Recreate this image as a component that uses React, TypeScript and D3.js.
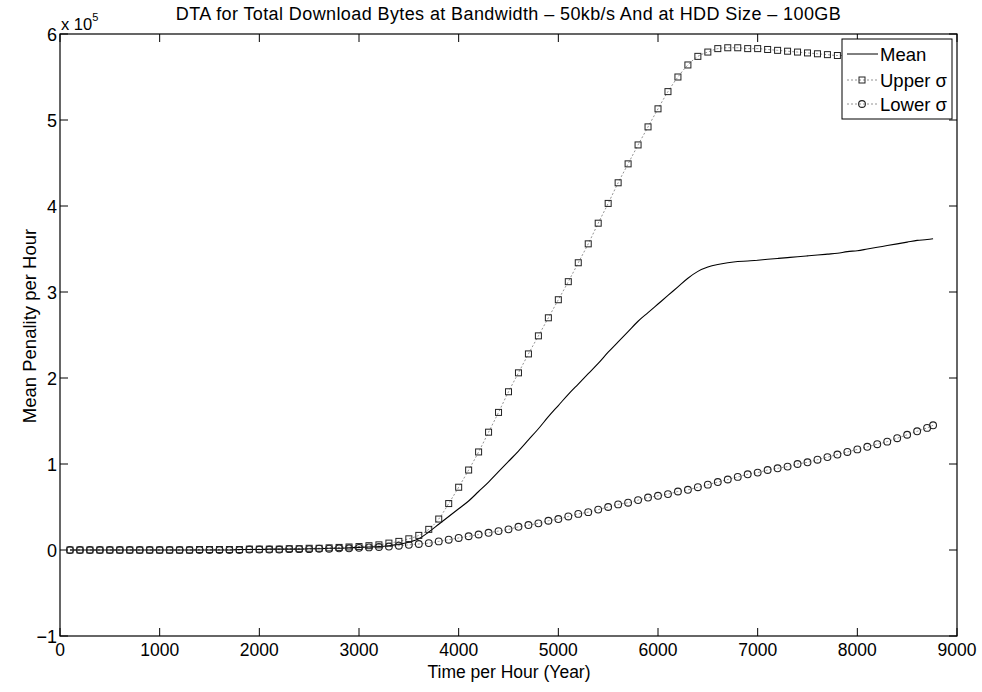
import React from "react";
import * as d3 from "d3";

const hours = [
  100, 200, 300, 400, 500, 600, 700, 800, 900, 1000,
  1100, 1200, 1300, 1400, 1500, 1600, 1700, 1800, 1900, 2000,
  2100, 2200, 2300, 2400, 2500, 2600, 2700, 2800, 2900, 3000,
  3100, 3200, 3300, 3400, 3500, 3600, 3700, 3800, 3900, 4000,
  4100, 4200, 4300, 4400, 4500, 4600, 4700, 4800, 4900, 5000,
  5100, 5200, 5300, 5400, 5500, 5600, 5700, 5800, 5900, 6000,
  6100, 6200, 6300, 6400, 6500, 6600, 6700, 6800, 6900, 7000,
  7100, 7200, 7300, 7400, 7500, 7600, 7700, 7800, 7900, 8000,
  8100, 8200, 8300, 8400, 8500, 8600, 8700, 8760,
];

// values in units of 10^5
const meanValues = [
  0.0, 0.0, 0.0, 0.0, 0.0, 0.0, 0.0, 0.0, 0.0, 0.0,
  0.0, 0.0, 0.0, 0.0, 0.0, 0.0, 0.0, 0.005, 0.005, 0.005,
  0.01, 0.01, 0.01, 0.01, 0.015, 0.015, 0.02, 0.02, 0.025, 0.03,
  0.035, 0.04, 0.05, 0.065, 0.09, 0.13, 0.21, 0.3, 0.39, 0.48,
  0.57, 0.68, 0.79, 0.91, 1.03, 1.15, 1.28, 1.41, 1.55, 1.68,
  1.81, 1.93, 2.05, 2.17, 2.3, 2.42, 2.54, 2.66, 2.76, 2.86,
  2.96, 3.06, 3.16, 3.24, 3.29, 3.32, 3.34, 3.355, 3.36, 3.37,
  3.38, 3.39, 3.4, 3.41, 3.42, 3.43, 3.44, 3.45, 3.47, 3.48,
  3.5, 3.52, 3.54, 3.56, 3.58, 3.6, 3.61, 3.62,
];

const upperValues = [
  0.0, 0.0, 0.0, 0.0, 0.0, 0.0, 0.0, 0.0, 0.0, 0.0,
  0.0, 0.0, 0.0, 0.005, 0.005, 0.005, 0.005, 0.005, 0.01, 0.01,
  0.01, 0.01, 0.015, 0.015, 0.02, 0.02, 0.025, 0.03, 0.035, 0.04,
  0.05, 0.06, 0.08, 0.1, 0.13, 0.17, 0.24, 0.36, 0.54, 0.73,
  0.93, 1.14, 1.37, 1.6, 1.84, 2.06, 2.28, 2.49, 2.7, 2.91,
  3.12, 3.34, 3.56, 3.8, 4.03, 4.27, 4.49, 4.71, 4.92, 5.13,
  5.33, 5.5, 5.64, 5.74, 5.79, 5.83, 5.84, 5.84, 5.83, 5.83,
  5.82, 5.81, 5.8, 5.79, 5.78, 5.77, 5.76, 5.75, 5.75, 5.74,
  5.73, 5.72, 5.72, 5.71, 5.7, 5.7, 5.69, 5.69,
];

const lowerValues = [
  0.0, 0.0, 0.0, 0.0, 0.0, 0.0, 0.0, 0.0, 0.0, 0.0,
  0.0, 0.0, 0.0, 0.0, 0.0, 0.0, 0.0, 0.0, 0.005, 0.005,
  0.005, 0.005, 0.01, 0.01, 0.01, 0.015, 0.015, 0.02, 0.02, 0.025,
  0.03, 0.035, 0.04, 0.05, 0.06, 0.07, 0.08, 0.1, 0.12, 0.14,
  0.16, 0.18, 0.2, 0.22, 0.24, 0.27, 0.29, 0.31, 0.34, 0.36,
  0.39, 0.42, 0.44, 0.47, 0.5, 0.53, 0.55, 0.58, 0.61, 0.63,
  0.65, 0.68, 0.7, 0.73, 0.76, 0.79, 0.82, 0.85, 0.88, 0.9,
  0.93, 0.95, 0.97, 1.0, 1.02, 1.05, 1.08, 1.11, 1.14, 1.17,
  1.2, 1.23, 1.26, 1.3, 1.34, 1.38, 1.42, 1.45,
];

const xTicks = [0, 1000, 2000, 3000, 4000, 5000, 6000, 7000, 8000, 9000];
const yTicks = [-1, 0, 1, 2, 3, 4, 5, 6];

const titleText = "DTA for Total Download Bytes at Bandwidth \u2013 50kb/s And at HDD Size \u2013 100GB";
const xLabel = "Time per Hour (Year)";
const yLabel = "Mean Penality per Hour";
const legendLabels = ["Mean", "Upper \u03c3", "Lower \u03c3"];

const W = 982;
const H = 692;
const L = 60;
const R = 957;
const T = 34;
const B = 636;
const FONT = "'Liberation Sans', Arial, Helvetica, sans-serif";

export default function App() {
  const x = d3.scaleLinear().domain([0, 9000]).range([L, R]);
  const y = d3.scaleLinear().domain([-1, 6]).range([B, T]);
  const pts = (vals: number[]) => hours.map((h, i) => [h, vals[i]] as [number, number]);
  const line = d3
    .line<[number, number]>()
    .x((d) => x(d[0]))
    .y((d) => y(d[1]))
    .curve(d3.curveMonotoneX);
  const tickLen = 8;
  const ms = 6;

  const legX0 = 842;
  const legY0 = 39;
  const legW = 110;
  const legH = 80;
  const legRows = [54, 80, 104];

  return (
    <svg
      width={W}
      height={H}
      style={{ position: "absolute", left: 0, top: 0, background: "#fff" }}
      fontFamily={FONT}
    >
      <rect x={0} y={0} width={W} height={H} fill="#fff" />
      {/* title */}
      <text x={(L + R) / 2} y={20} textAnchor="middle" fontSize={18} letterSpacing={0.4} fill="#000">
        {titleText}
      </text>
      {/* multiplier */}
      <text x={61} y={30} fontSize={16.5} fill="#000">
        x 10
        <tspan fontSize={11} dy={-9}>5</tspan>
      </text>
      {/* axes box */}
      <rect x={L} y={T} width={R - L} height={B - T} fill="none" stroke="#000" strokeWidth={1.2} />
      {/* x ticks */}
      {xTicks.map((t) => (
        <g key={"xt" + t}>
          <line x1={x(t)} x2={x(t)} y1={B} y2={B - tickLen} stroke="#000" />
          <line x1={x(t)} x2={x(t)} y1={T} y2={T + tickLen} stroke="#000" />
          <text x={x(t)} y={B + 20} textAnchor="middle" fontSize={17.5} fill="#000">
            {t}
          </text>
        </g>
      ))}
      {/* y ticks */}
      {yTicks.map((t) => (
        <g key={"yt" + t}>
          <line x1={L} x2={L + tickLen} y1={y(t)} y2={y(t)} stroke="#000" />
          <line x1={R} x2={R - tickLen} y1={y(t)} y2={y(t)} stroke="#000" />
          <text x={L - 3} y={y(t) + 6.5} textAnchor="end" fontSize={18} fill="#000">
            {t < 0 ? "\u2212" + Math.abs(t) : t}
          </text>
        </g>
      ))}
      {/* axis labels */}
      <text x={509} y={678} textAnchor="middle" fontSize={17.5} fill="#000">
        {xLabel}
      </text>
      <text
        transform={`translate(36, 326) rotate(-90)`}
        textAnchor="middle"
        fontSize={18.5}
        fill="#000"
      >
        {yLabel}
      </text>
      {/* series */}
      <path d={line(pts(upperValues)) || ""} fill="none" stroke="#777" strokeWidth={0.8} strokeDasharray="2,2" />
      <path d={line(pts(lowerValues)) || ""} fill="none" stroke="#777" strokeWidth={0.8} strokeDasharray="2,2" />
      <path d={line(pts(meanValues)) || ""} fill="none" stroke="#000" strokeWidth={1.1} />
      {hours.map((h, i) => (
        <rect
          key={"u" + i}
          x={x(h) - ms / 2}
          y={y(upperValues[i]) - ms / 2}
          width={ms}
          height={ms}
          fill="none"
          stroke="#222"
          strokeWidth={1}
        />
      ))}
      {hours.map((h, i) => (
        <circle
          key={"l" + i}
          cx={x(h)}
          cy={y(lowerValues[i])}
          r={3.4}
          fill="none"
          stroke="#222"
          strokeWidth={1.1}
        />
      ))}
      {/* legend */}
      <rect x={legX0} y={legY0} width={legW} height={legH} fill="#fff" stroke="#000" strokeWidth={1} />
      <line x1={847} x2={878} y1={legRows[0]} y2={legRows[0]} stroke="#000" strokeWidth={1} />
      <line x1={847} x2={878} y1={legRows[1]} y2={legRows[1]} stroke="#777" strokeWidth={0.8} strokeDasharray="2,2" />
      <rect x={862 - ms / 2} y={legRows[1] - ms / 2} width={ms} height={ms} fill="none" stroke="#222" />
      <line x1={847} x2={878} y1={legRows[2]} y2={legRows[2]} stroke="#777" strokeWidth={0.8} strokeDasharray="2,2" />
      <circle cx={862} cy={legRows[2]} r={3.4} fill="none" stroke="#222" strokeWidth={1.1} />
      {legendLabels.map((lab, i) => (
        <text key={lab} x={880} y={legRows[i] + 6.5} fontSize={18.5} fill="#000">
          {lab}
        </text>
      ))}
    </svg>
  );
}
